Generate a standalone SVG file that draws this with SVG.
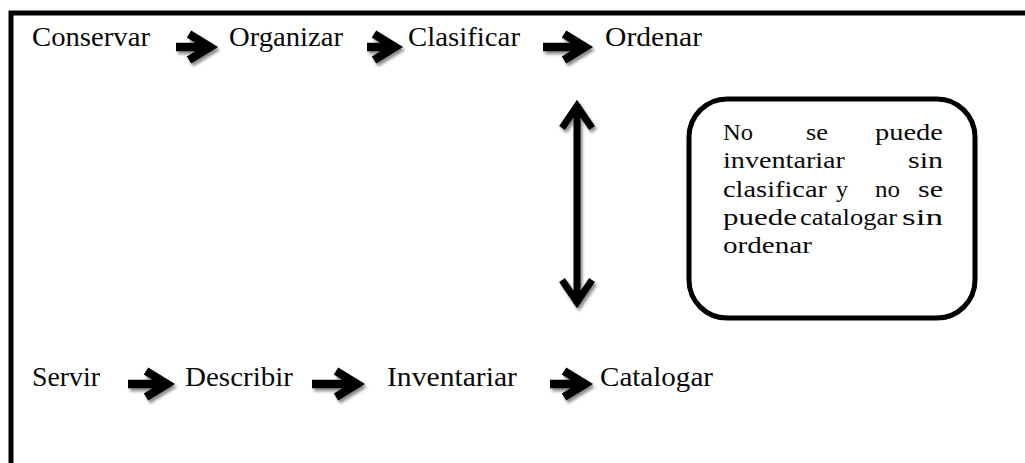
<svg xmlns="http://www.w3.org/2000/svg" width="1025" height="463" viewBox="0 0 1025 463">
  <defs>
    <filter id="sh" x="-30%" y="-30%" width="160%" height="160%">
      <feDropShadow dx="2" dy="3" stdDeviation="1.6" flood-color="#000" flood-opacity="0.45"/>
    </filter>
    <style>
      .lbl { font-family: "Liberation Serif", "Times New Roman", serif; font-size: 27px; fill: #0a0a0a; }
      .box { font-family: "Liberation Serif", "Times New Roman", serif; font-size: 24px; fill: #0a0a0a; }
      .arr { fill: none; stroke: #000; stroke-width: 8.5; stroke-linejoin: miter; stroke-miterlimit: 6; filter: url(#sh); }
      .varr { fill: none; stroke: #000; stroke-width: 7; stroke-linejoin: miter; stroke-miterlimit: 6; filter: url(#sh); }
    </style>
  </defs>
  <rect x="0" y="0" width="1025" height="463" fill="#fff"/>
  <g id="frame">
    <path d="M11 463 V13 H1025" fill="none" stroke="#000" stroke-width="5"/>
  </g>

  <g id="n-conservar"><text class="lbl" x="32" y="46" textLength="118" lengthAdjust="spacingAndGlyphs">Conservar</text></g>
  <g id="n-organizar"><text class="lbl" x="229" y="46" textLength="114" lengthAdjust="spacingAndGlyphs">Organizar</text></g>
  <g id="n-clasificar"><text class="lbl" x="408" y="46" textLength="112" lengthAdjust="spacingAndGlyphs">Clasificar</text></g>
  <g id="n-ordenar"><text class="lbl" x="605" y="46" textLength="97" lengthAdjust="spacingAndGlyphs">Ordenar</text></g>

  <g id="n-servir"><text class="lbl" x="32" y="386" textLength="68" lengthAdjust="spacingAndGlyphs">Servir</text></g>
  <g id="n-describir"><text class="lbl" x="185" y="386" textLength="108" lengthAdjust="spacingAndGlyphs">Describir</text></g>
  <g id="n-inventariar"><text class="lbl" x="387" y="386" textLength="130" lengthAdjust="spacingAndGlyphs">Inventariar</text></g>
  <g id="n-catalogar"><text class="lbl" x="600" y="386" textLength="113" lengthAdjust="spacingAndGlyphs">Catalogar</text></g>

  <g id="n-nota">
    <rect x="689" y="99" width="286" height="219" rx="38" ry="38" fill="#fff" stroke="#000" stroke-width="5"/>
    <text class="box" y="140">
      <tspan x="723" textLength="30" lengthAdjust="spacingAndGlyphs">No</tspan>
      <tspan x="806" textLength="22" lengthAdjust="spacingAndGlyphs">se</tspan>
      <tspan x="875" textLength="68" lengthAdjust="spacingAndGlyphs">puede</tspan>
    </text>
    <text class="box" y="168">
      <tspan x="723" textLength="122" lengthAdjust="spacingAndGlyphs">inventariar</tspan>
      <tspan x="908" textLength="35" lengthAdjust="spacingAndGlyphs">sin</tspan>
    </text>
    <text class="box" y="197">
      <tspan x="723" textLength="104" lengthAdjust="spacingAndGlyphs">clasificar</tspan>
      <tspan x="836">y</tspan>
      <tspan x="875" textLength="25" lengthAdjust="spacingAndGlyphs">no</tspan>
      <tspan x="918" textLength="25" lengthAdjust="spacingAndGlyphs">se</tspan>
    </text>
    <text class="box" y="225">
      <tspan x="723" textLength="74" lengthAdjust="spacingAndGlyphs">puede</tspan>
      <tspan x="800" textLength="97" lengthAdjust="spacingAndGlyphs">catalogar</tspan>
      <tspan x="902" textLength="41" lengthAdjust="spacingAndGlyphs">sin</tspan>
    </text>
    <text class="box" y="253">
      <tspan x="723" textLength="89" lengthAdjust="spacingAndGlyphs">ordenar</tspan>
    </text>
  </g>

  <g id="connectors">
    <path class="arr" d="M176 47 H212 M189 34 L210 47 L189 60"/>
    <path class="arr" d="M367 47 H397 M374 34 L395 47 L374 60"/>
    <path class="arr" d="M543 47 H587 M564 34 L585 47 L564 60"/>
    <path class="arr" d="M128 384 H169 M146 371 L167 384 L146 397"/>
    <path class="arr" d="M312 384 H359 M336 371 L357 384 L336 397"/>
    <path class="arr" d="M550 384 H587 M564 371 L585 384 L564 397"/>
    <path class="varr" d="M577 104 V304 M562 128 L577 106 L592 128 M562 280 L577 302 L592 280"/>
  </g>
</svg>
